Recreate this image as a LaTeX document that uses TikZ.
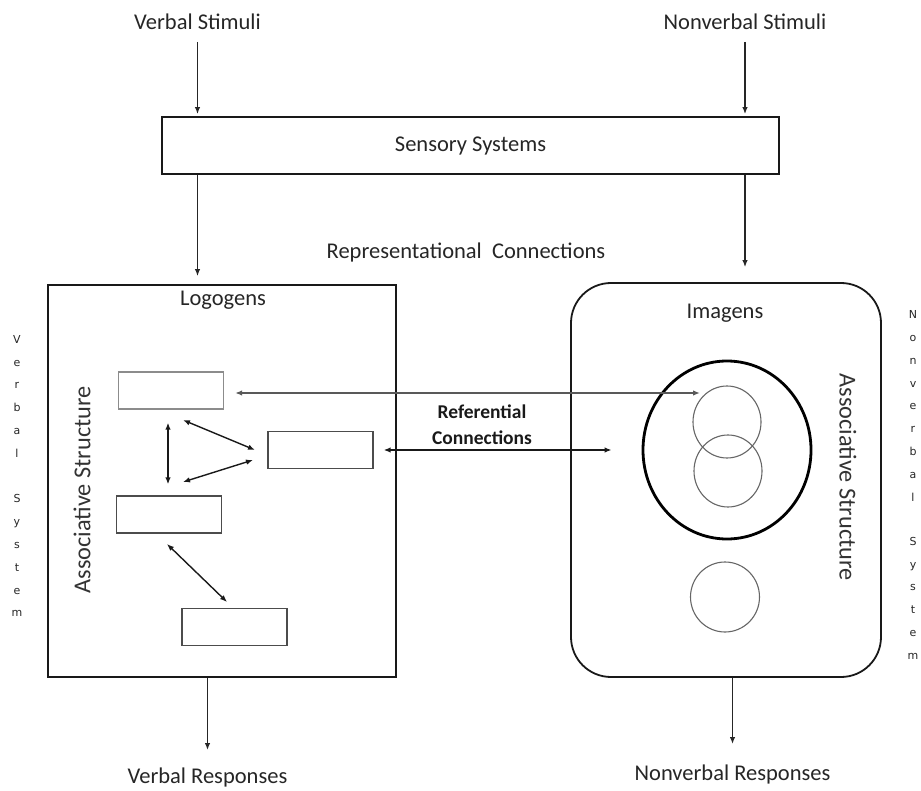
\documentclass[tikz,border=0pt]{standalone}
\usepackage{fontspec}
\setmainfont{Carlito}
\newfontfamily\sidefont{DejaVu Sans}
\usetikzlibrary{arrows.meta,shapes.geometric}
\begin{document}
\begin{tikzpicture}[x=1pt,y=-1pt,
  lbl/.style={font=\fontsize{22.5}{24}\selectfont, inner sep=0pt, text=black!85},
  tip/.style={-{Latex[length=7pt,width=5.5pt]}},
  arr/.style={tip, line width=1.3pt, draw=black!85},
  dbl/.style={{Latex[length=7pt,width=5.5pt]}-{Latex[length=7pt,width=5.5pt]}, line width=1.4pt, draw=black!90},
  bigbox/.style={draw=black!90, line width=1.8pt, inner sep=0pt},
  smallbox/.style={draw=black!70, line width=1.3pt, minimum width=105pt, minimum height=37pt, inner sep=0pt},
  ring/.style={ellipse, draw=black!60, line width=1.1pt, inner sep=0pt, minimum width=68pt, minimum height=72pt},
  side/.style={font=\sidefont\fontsize{11}{22.8}\selectfont, align=center, inner sep=0pt, text=black!85},
  assoc/.style={font=\fontsize{24.3}{26}\selectfont, inner sep=0pt, text=black!80}
]
\useasboundingbox (0,0) rectangle (921,791);

% texts top
\node[lbl] (vs) at (197.5,22) {Verbal Stimuli};
\node[lbl] (nvs) at (745,22) {Nonverbal Stimuli};

% sensory systems
\node[bigbox, minimum width=617pt, minimum height=57pt] (sens) at (470.5,145.5) {};
\node[lbl] (senst) at (470.5,146) {Sensory Systems};

\node[lbl] (rep) at (466,253) {Representational\ \ Connections};

% main boxes
\node[bigbox, minimum width=348pt, minimum height=392pt] (lbox) at (222,481) {};
\node[bigbox, rounded corners=40pt, minimum width=310pt, minimum height=394pt] (rbox) at (726,480) {};

\node[lbl] (logo) at (223,300) {Logogens};
\node[lbl] (imag) at (725,313) {Imagens};

% logogen boxes
\node[smallbox, draw=black!45] (box1) at (171,390.5) {};
\node[smallbox] (box2) at (320.5,450) {};
\node[smallbox] (box3) at (169,514.5) {};
\node[smallbox] (box4) at (234.5,627) {};

% imagen circles
\node[ellipse, draw=black, line width=2.8pt, inner sep=0pt, minimum width=168pt, minimum height=178pt] (big) at (727,450) {};
\node[ring] (c1) at (727,422) {};
\node[ring] (c2) at (728,471) {};
\node[ring, minimum width=69pt, minimum height=70pt] (c3) at (725,597) {};

% associative structure labels
\node[assoc, rotate=90] (asl) at (82,490) {Associative Structure};
\node[assoc, rotate=-90] (asr) at (848,477) {Associative Structure};

% side labels
\node[side] (vsys) at (17,476) {V\\e\\r\\b\\a\\l\\[22.8pt]S\\y\\s\\t\\e\\m};
\node[side] (nvsys) at (913,485) {N\\o\\n\\v\\e\\r\\b\\a\\l\\[21.4pt]S\\y\\s\\t\\e\\m};

% referential
\node[font=\bfseries\fontsize{19.5}{26}\selectfont, align=center, inner sep=0pt, text=black!90] (ref) at (482,425) {Referential\\Connections};

% bottom texts
\node[lbl] (vr) at (207.5,777) {Verbal Responses};
\node[lbl] (nvr) at (732.5,774) {Nonverbal Responses};

% stimulus arrows
\draw[arr, shorten >=2pt] (vs.south |- 0,42) -- (vs.south |- sens.north);
\draw[arr, shorten >=2pt] (nvs.south |- 0,42) -- (nvs.south |- sens.north);
\draw[arr, shorten >=8pt] (sens.south -| vs) -- (lbox.north -| vs);
\draw[arr, shorten >=15pt] (sens.south -| nvs) -- (rbox.north -| nvs);

% response arrows
\draw[arr] (lbox.south -| vr) -- (vr.north |- 0,750);
\draw[arr] (rbox.south -| nvr) -- (nvr.north |- 0,744);

% associative arrows (left)
\coordinate (a1) at (183,420);
\coordinate (a2) at (255,450);
\coordinate (b1) at (183,482);
\coordinate (b2) at (253,460);
\coordinate (d1) at (167,544);
\coordinate (d2) at (227,602);
\draw[dbl, shorten <=13pt, shorten >=11pt] ([xshift=-3pt]box1.south) -- ([xshift=-3pt]box1.south |- box3.north);
\draw[dbl] (a1) -- (a2);
\draw[dbl] (b1) -- (b2);
\draw[dbl] (d1) -- (d2);

% referential arrows
\draw[dbl, draw=black!65, line width=1.5pt, shorten <=11pt, shorten >=27pt] (box1.east |- 0,393) -- (c1.center |- 0,393);
\draw[dbl, line width=2pt, shorten <=10pt, shorten >=30pt] (box2.east) -- (big.west);
\end{tikzpicture}
\end{document}
